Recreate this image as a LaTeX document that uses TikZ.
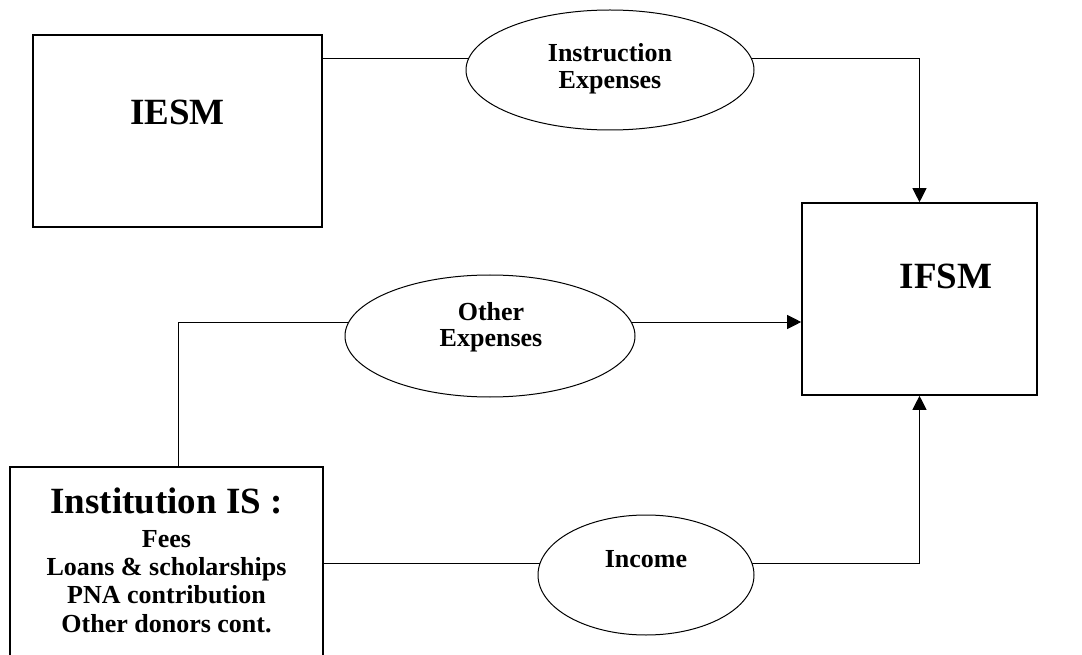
\documentclass[tikz,border=0pt]{standalone}
\usepackage{fontspec}
\setmainfont{Liberation Serif}
\usepackage{tikz}
\usetikzlibrary{shapes.geometric,arrows.meta,backgrounds}

\tikzset{
  box/.style={draw, line width=1.6pt, inner sep=0pt},
  oval/.style={draw, ellipse, fill=white, line width=1pt, inner sep=0pt},
  wire/.style={line width=1pt},
  arr/.style={wire, -{Triangle[length=14pt,width=14pt]}},
  big/.style={font=\bfseries\fontsize{37}{40}\selectfont, anchor=base, inner sep=0pt},
  small/.style={font=\bfseries\fontsize{26}{28}\selectfont, anchor=base, inner sep=0pt},
}

\begin{document}
\begin{tikzpicture}[x=1pt, y=-1pt]
    \useasboundingbox (0,0) rectangle (1082,655);
    \clip (0,0) rectangle (1082,655);

    % boxes
    \node [box, minimum width=289pt, minimum height=192pt] (iesm) at (177.5,131) {};
    \node [box, minimum width=235pt, minimum height=192pt] (ifsm) at (919.5,299) {};
    \node [box, minimum width=313pt, minimum height=200pt] (inst) at (166.5,567) {};

    % flows
    \node [oval, minimum width=288pt, minimum height=120pt] (instr) at (610,70) {};
    \node [oval, minimum width=290pt, minimum height=122pt] (other) at (490,336) {};
    \node [oval, minimum width=216pt, minimum height=120pt] (inc) at (646,575) {};

    \coordinate (iA) at ([yshift=11pt]instr.center);
    \coordinate (oA) at ([yshift=14pt]other.center);
    \coordinate (nA) at ([yshift=12pt]inc.center);

    \begin{pgfonlayer}{background}
    \draw [wire] (iA -| iesm.east) -- (iA);
    \draw [arr] (iA) -| (ifsm.north);
    \draw [wire] ([xshift=11.5pt]inst.north) |- (oA);
    \draw [arr] (oA) -- (oA -| ifsm.west);
    \draw [wire] (nA -| inst.east) -- (nA);
    \draw [arr] (nA) -| (ifsm.south);
    \end{pgfonlayer}

    % labels
    \node [big] (iesmT) at (177.5,125) {IESM};
    \node [big] (ifsmT) at (946,288) {IFSM};
    \node [big] (instT) at (166.5,513) {Institution IS :};
    \node [small] (instrT1) at (610,62) {Instruction};
    \node [small] (instrT2) at (610,89) {Expenses};
    \node [small] (otherT1) at (491,320) {Other};
    \node [small] (otherT2) at (491,346) {Expenses};
    \node [small] (incT) at (646,567) {Income};
    \foreach \txt/\yb [count=\i] in {Fees/547, Loans \& scholarships/575,
        PNA contribution/603, Other donors cont./632}
        \node [small] (src\i) at (166.5,\yb) {\txt};
\end{tikzpicture}
\end{document}
